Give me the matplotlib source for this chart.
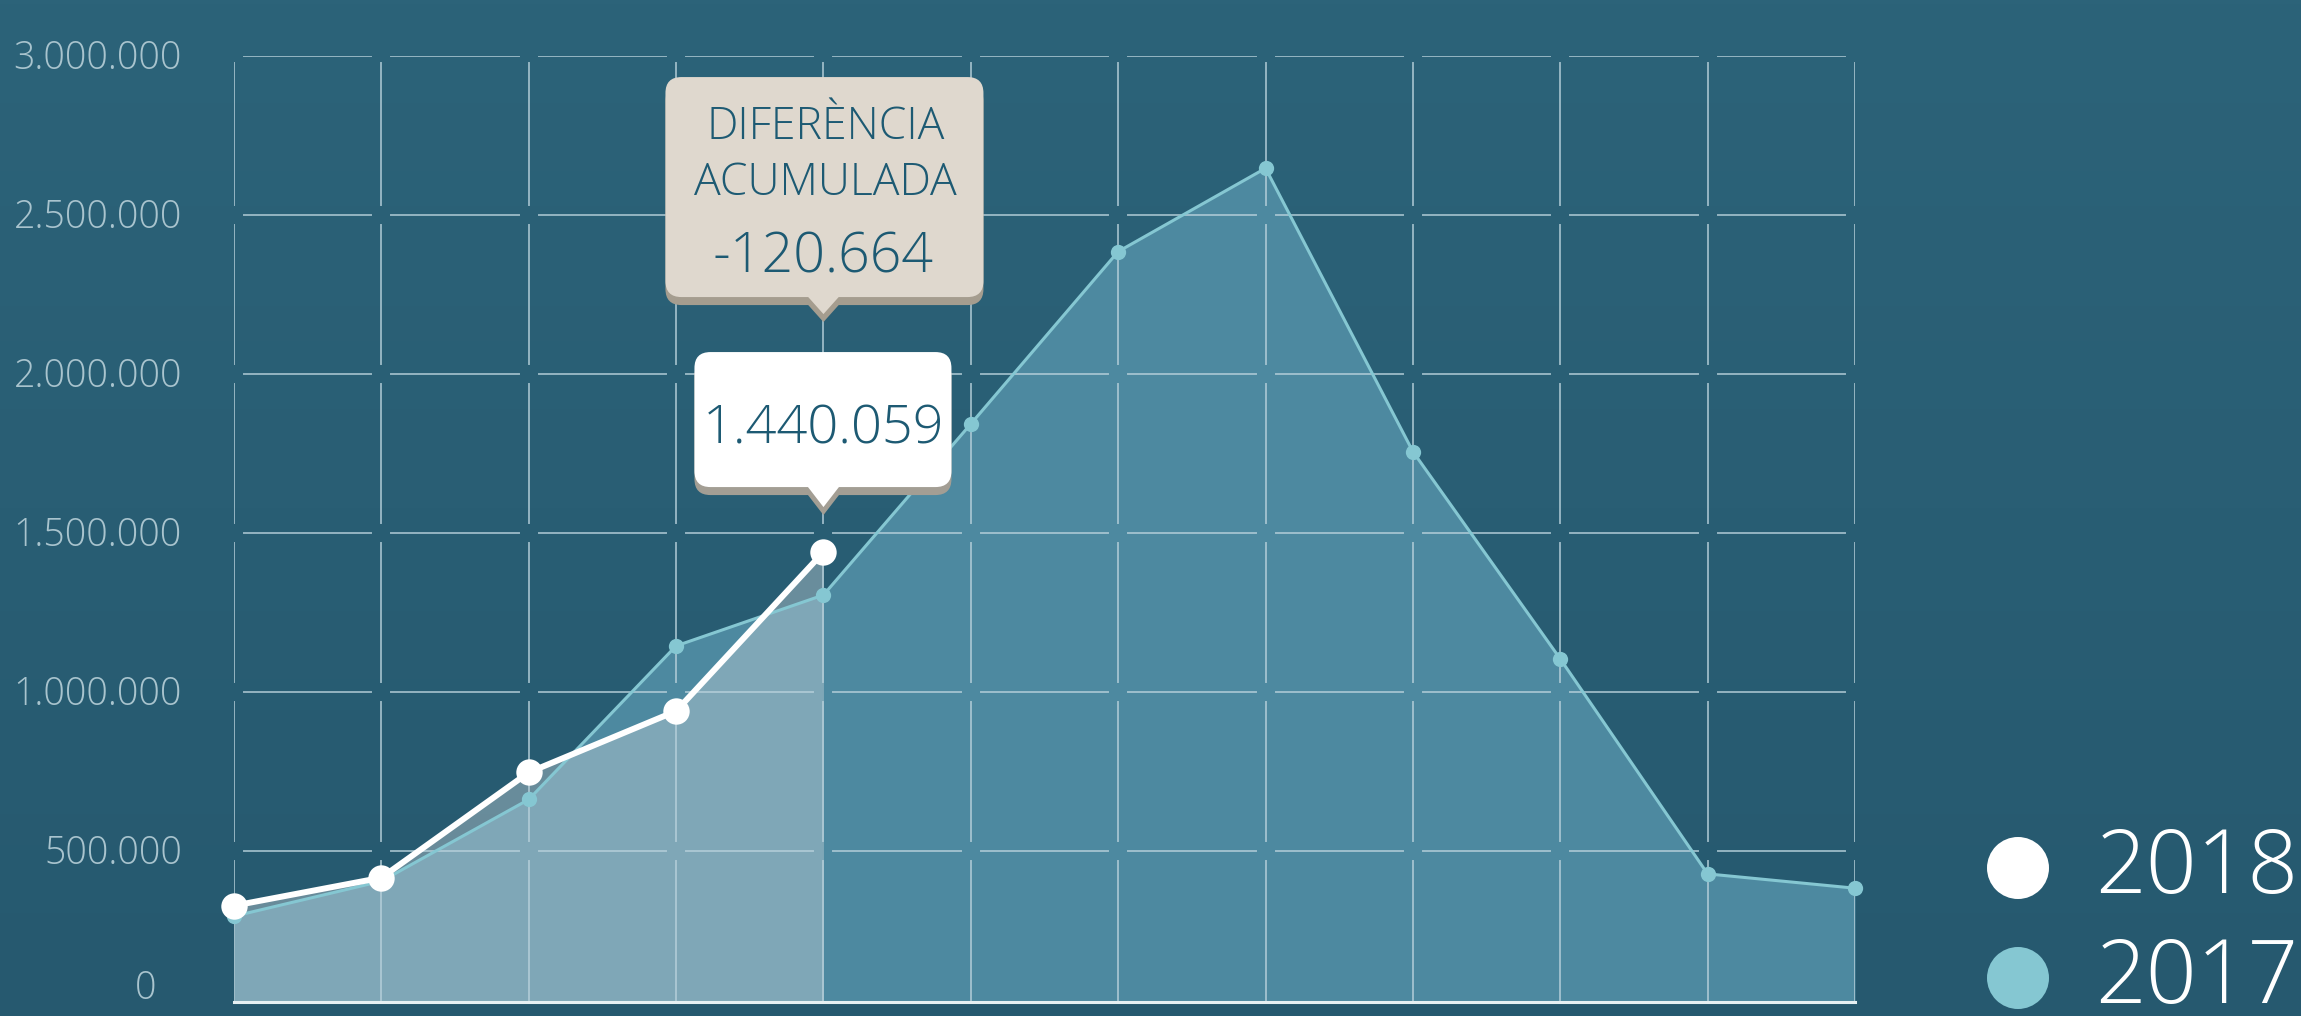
import numpy as np
import matplotlib
matplotlib.use('Agg')
import matplotlib.pyplot as plt
from matplotlib.patches import FancyBboxPatch, Polygon, Circle

plt.rcParams['font.family'] = ['Open Sans', 'DejaVu Sans']

# dades
mesos = ['Gen', 'Feb', 'Mar', 'Abr', 'Mai', 'Jun', 'Jul', 'Ago', 'Set', 'Oct', 'Nov', 'Des']
v2017 = [295000, 405000, 662000, 1145000, 1305000, 1843000, 2385000, 2647000, 1756000, 1104000, 428000, 383000]
v2018 = [328000, 416000, 747000, 940000, 1440059]
y_ticks = [0, 500000, 1000000, 1500000, 2000000, 2500000, 3000000]
y_labels = ['0', '500.000', '1.000.000', '1.500.000', '2.000.000', '2.500.000', '3.000.000']
series = ['2018', '2017']
tip_title = ['DIFERÈNCIA', 'ACUMULADA']
tip_diff = '-120.664'
tip_value = '1.440.059'

W, H = 2301, 1016
bg_top = np.array([44, 99, 121]) / 255
bg_bot = np.array([38, 89, 111]) / 255
c2017_line = '#85c7d2'
c2017_fill = '#4d89a0'
c2018_fill = (0.80, 0.84, 0.86)
grid_c = (0.72, 0.82, 0.86)
text_dark = '#1d5a73'

fig = plt.figure(figsize=(W / 100, H / 100), dpi=100)

# fons amb degradat
bg = fig.add_axes([0, 0, 1, 1], zorder=-5)
grad = np.linspace(0, 1, 256)[:, None, None]
bg.imshow(bg_top * (1 - grad) + bg_bot * grad, aspect='auto', extent=[0, 1, 0, 1])
bg.axis('off')

# eix principal
x0_px, x1_px, ytop_px, ybot_px = 234, 1855, 56, 1002
ax = fig.add_axes([x0_px / W, 1 - ybot_px / H, (x1_px - x0_px) / W, (ybot_px - ytop_px) / H])
ax.set_facecolor('none')
x = np.arange(len(mesos))
px_per_val = 159 / 500000
ylo = 3000000 - (ybot_px - ytop_px) / px_per_val
ax.set_xlim(0, len(mesos) - 1)
ax.set_ylim(ylo, 3000000)

ax.fill_between(x, 0, v2017, color=c2017_fill, lw=0, zorder=1)
x18 = x[:len(v2018)]
ax.fill_between(x18, 0, v2018, color=c2018_fill, alpha=0.40, lw=0, zorder=2)

# graella trencada a les interseccions
gx = 10 / ((x1_px - x0_px) / (len(mesos) - 1))
gy = 10 / px_per_val
for yv in y_ticks[1:]:
    for i in range(len(mesos) - 1):
        ax.plot([i + gx, i + 1 - gx], [yv, yv], color=grid_c, lw=1.4, alpha=0.75, zorder=3)
for xv in x:
    bounds = [ylo] + y_ticks[1:]
    for k in range(len(bounds) - 1):
        lo = bounds[k] + (gy if k > 0 else 0)
        hi = bounds[k + 1] - (gy if k < len(bounds) - 2 else 7 / px_per_val)
        ax.plot([xv, xv], [lo, hi], color=grid_c, lw=1.4, alpha=0.75, zorder=3)

ax.plot(x, v2017, color=c2017_line, lw=2.2, marker='o', ms=11, mec='none', zorder=4, clip_on=False)
ax.plot(x18, v2018, color='white', lw=4.3, marker='o', ms=19, mec='none', zorder=5, clip_on=False)

for s in ['top', 'right', 'left']:
    ax.spines[s].set_visible(False)
ax.spines['bottom'].set_color('#e6f0f3')
ax.spines['bottom'].set_linewidth(2.2)
ax.spines['bottom'].set_zorder(6)
ax.set_xticks([])
ax.set_yticks([])

# capa superior en pixels
ov = fig.add_axes([0, 0, 1, 1], zorder=10)
ov.set_xlim(0, W)
ov.set_ylim(H, 0)
ov.axis('off')
fig.canvas.draw()


def to_px(xd, yd):
    px, py = ax.transData.transform((xd, yd))
    return px, H - py


for v, lab in zip(y_ticks, y_labels):
    py = to_px(0, max(v, ylo))[1] + 3
    rx = 182
    if v == 0:
        py -= 16
        rx = 156
    ov.text(rx, py, lab, ha='right', va='center', fontsize=27, fontweight='light', color='#a9c4ce')


def bubble(cx, tip_y, left, right, top, bottom, face, shadow):
    for off, col in [(8, shadow), (0, face)]:
        ov.add_patch(FancyBboxPatch((cx + left, top + off), right - left, bottom - top,
                                    boxstyle='round,pad=0,rounding_size=16', fc=col, ec='none'))
        ov.add_patch(Polygon([(cx - 17, bottom - 2 + off), (cx + 17, bottom - 2 + off), (cx, tip_y + off)],
                             closed=True, fc=col, ec='none'))


axp, ayp = to_px(x18[-1], v2018[-1])
bubble(axp, ayp - 45, -129, 128, ayp - 200, ayp - 65, 'white', '#a39e94')
bubble(axp, ayp - 238, -158, 160, ayp - 475, ayp - 255, '#dfd8ce', '#a59d8f')
for j, line in enumerate(tip_title):
    ov.text(axp + 2, ayp - 424 + j * 56, line, ha='center', va='center', fontsize=32, fontweight='light',
            color=text_dark)
ov.text(axp, ayp - 294, tip_diff, ha='center', va='center', fontsize=40, fontweight='light', color=text_dark)
ov.text(axp, ayp - 122, tip_value, ha='center', va='center', fontsize=39, fontweight='light', color=text_dark)

# llegenda
for i, (name, col) in enumerate(zip(series, ['white', c2017_line])):
    cy = 868 + i * 110
    ov.add_patch(Circle((2018, cy), 31, fc=col, ec='none'))
    ov.text(2095, cy + 2, name, ha='left', va='center', fontsize=64, fontweight='light', color='white')

fig.savefig('out.png', dpi=100)
